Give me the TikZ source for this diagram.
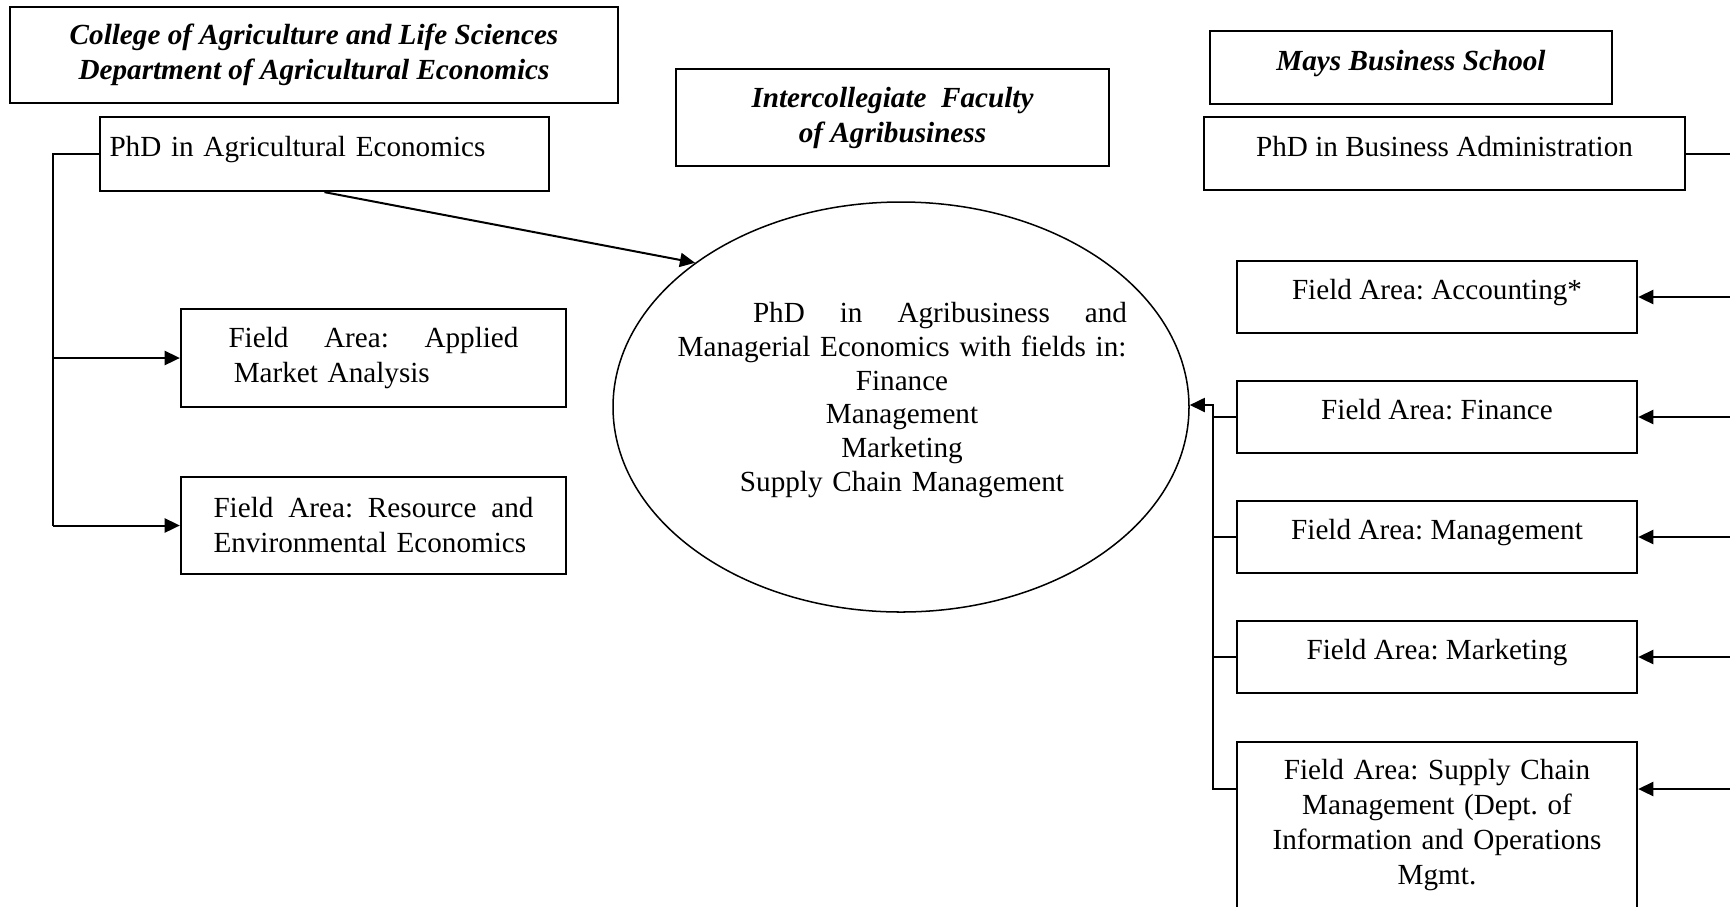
\documentclass[tikz,border=0pt]{standalone}
\usepackage{fontspec}
\setmainfont{Liberation Serif}
\usetikzlibrary{arrows.meta, shapes.geometric}
\frenchspacing

\begin{document}
\begin{tikzpicture}[
    >={Triangle[length=4.3pt, width=4pt]},
    every node/.style={font=\fontsize{8.3}{9.96}\selectfont},
    box/.style={draw, line width=0.65pt, inner sep=0pt, align=center},
    unit/.style={box, font=\fontsize{8.3}{9.96}\selectfont\bfseries\itshape},
    raised/.style={text height=6pt, text depth=4.5pt},
    field/.style={box, raised, minimum width=4.0cm, minimum height=0.72cm},
    wire/.style={line width=0.57pt},
]
  \useasboundingbox (0, 0) rectangle (17.3, -9.06);

  % colleges and programmes
  \node[unit, minimum width=6.08cm, minimum height=0.96cm] (cals) at (3.14, -0.55)
    {College of Agriculture and Life Sciences\\Department of Agricultural Economics};
  \node[box, raised, minimum width=4.49cm, minimum height=0.74cm,
        text width=4.3cm, align=left] (agecon) at (3.245, -1.54)
    {PhD in Agricultural Economics};
  \node[box, minimum width=3.85cm, minimum height=0.98cm, text width=2.9cm,
        align=left] (applied) at (3.735, -3.58)
    {Field\hfill Area:\hfill Applied\\\hspace*{1.5pt}Market Analysis};
  \node[box, minimum width=3.85cm, minimum height=0.97cm, text width=3.2cm,
        align=left] (resource) at (3.735, -5.255)
    {Field\hfill Area:\hfill Resource\hfill and\\\mbox{Environmental Economics}};

  \node[unit, minimum width=4.33cm, minimum height=0.97cm] (ifa) at (8.925, -1.175)
    {Intercollegiate\ \ Faculty\\of Agribusiness};

  \node[unit, raised, minimum width=4.02cm, minimum height=0.73cm] (mays) at (14.11, -0.675)
    {Mays Business School};
  \node[box, raised, minimum width=4.81cm, minimum height=0.73cm] (pba) at (14.445, -1.535)
    {PhD in Business Administration};

  \node[field] (accounting) at (14.37, -2.97) {Field Area: Accounting*};
  \node[field] (finance) at (14.37, -4.17) {Field Area: Finance};
  \node[field] (management) at (14.37, -5.37) {Field Area: Management};
  \node[field] (marketing) at (14.37, -6.57) {Field Area: Marketing};
  \node[box, anchor=north, minimum width=4.0cm, text width=3.5cm, inner ysep=0.17cm,
        text height=5.7pt, text depth=40pt] (supply) at (14.37, -7.41)
    {Field Area: Supply Chain\\Management (Dept. of\\Information and Operations\\Mgmt.};

  % joint degree
  \node[draw, ellipse, line width=0.43pt, minimum width=5.76cm, minimum height=4.1cm,
        inner sep=0pt] (core) at (9.01, -4.07) {};
  \node[text width=4.5cm, align=center, inner sep=0pt,
        font=\fontsize{8.3}{9.6}\selectfont] (coretext) at (9.02, -4.0)
    {\hspace*{0.76cm}PhD\hfill in\hfill Agribusiness\hfill and\\
     \mbox{Managerial Economics with fields in:}\\Finance\\Management\\Marketing\\
     Supply Chain Management};

  \coordinate (redge) at (17.3, 0);
  \coordinate (ltrunk) at (0.53, -1.54);
  \coordinate (rtrunk) at (12.13, -4.05);
  \coordinate (sjoin) at (12.37, -7.89);

  \draw[wire] (agecon.west) -- (ltrunk) -- (ltrunk |- resource.west);
  \foreach \n in {applied, resource}
    \draw[wire, ->] (ltrunk |- \n.west) -- (\n.west);
  \draw[wire, ->] (agecon.south) -- (core.145);

  \draw[wire] (pba.east) -- (redge |- pba.east);
  \foreach \n in {accounting, finance, management, marketing}
    \draw[wire, ->] (redge |- \n.east) -- (\n.east);
  \draw[wire, ->] (redge |- sjoin) -- (supply.east |- sjoin);

  \draw[wire, <-] (rtrunk -| core.east) -- (rtrunk) -- (rtrunk |- sjoin) -- (sjoin);
  \foreach \n in {finance, management, marketing}
    \draw[wire] (rtrunk |- \n.west) -- (\n.west);
\end{tikzpicture}
\end{document}
